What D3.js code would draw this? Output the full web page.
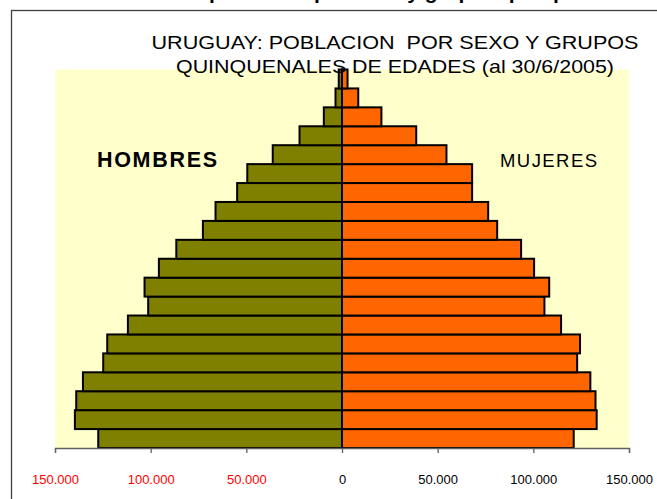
<!DOCTYPE html>
<html>
<head>
<meta charset="utf-8">
<script src="https://cdn.jsdelivr.net/npm/d3@7"></script>
<style>
  body { margin: 0; background: #fff; }
  text { font-family: "Liberation Sans", Arial, sans-serif; }
</style>
</head>
<body>
<script>
// age groups, bottom to top
var ageGroups = ["0-4", "5-9", "10-14", "15-19", "20-24", "25-29", "30-34", "35-39", "40-44", "45-49",
    "50-54", "55-59", "60-64", "65-69", "70-74", "75-79", "80-84", "85-89", "90-94", "95+"];

var hombres = [127400, 139600, 138900, 135400, 124800, 122700, 111900, 101300, 103200, 95700,
    86600, 72700, 66100, 54800, 49500, 36200, 22200, 9500, 3400, 1700];

var mujeres = [121100, 133100, 132500, 129800, 122900, 124400, 114500, 105800, 108300, 100400,
    93600, 81100, 76400, 68000, 68000, 54600, 38800, 20600, 8500, 2900];

var tickValues = [-150000, -100000, -50000, 0, 50000, 100000, 150000];

var titleLines = ["URUGUAY: POBLACION  POR SEXO Y GRUPOS", "QUINQUENALES DE EDADES (al 30/6/2005)"];

var width = 657, height = 499;
var plot = {left: 55, right: 629, top: 69.5, bottom: 448};

var svg = d3.select("body").append("svg")
    .attr("width", width)
    .attr("height", height);

// heading of the page, cut off above the chart frame
svg.append("text")
    .attr("x", 395)
    .attr("y", -1)
    .attr("text-anchor", "middle")
    .style("font-size", "21px")
    .style("font-weight", "bold")
    .text("Estructura de la población por sexo y grupos quinquenales de edades");

// chart frame
svg.append("rect")
    .attr("x", 11.5)
    .attr("y", 10.5)
    .attr("width", 800)
    .attr("height", 600)
    .attr("fill", "#fff")
    .attr("stroke", "#404040")
    .attr("stroke-width", 1.3);

// plot background
svg.append("rect")
    .attr("x", plot.left)
    .attr("y", plot.top)
    .attr("width", plot.right - plot.left)
    .attr("height", plot.bottom - plot.top)
    .attr("fill", "#ffffcc");

var x = d3.scaleLinear()
    .domain([-150000, 150000])
    .range([plot.left, plot.right]);

var y = d3.scaleBand()
    .domain(ageGroups)
    .range([plot.bottom, plot.top])
    .paddingInner(0);

var data = ageGroups.map(function (g, i) {
    return {group: g, h: hombres[i], m: mujeres[i]};
});

var bars = svg.append("g").attr("class", "bars");

bars.selectAll("rect.h")
    .data(data)
    .enter().append("rect")
    .attr("class", "h")
    .attr("x", function (d) { return x(-d.h); })
    .attr("y", function (d) { return y(d.group); })
    .attr("width", function (d) { return x(0) - x(-d.h); })
    .attr("height", y.bandwidth())
    .attr("fill", "#808000")
    .attr("stroke", "#000")
    .attr("stroke-width", 2);

bars.selectAll("rect.m")
    .data(data)
    .enter().append("rect")
    .attr("class", "m")
    .attr("x", x(0))
    .attr("y", function (d) { return y(d.group); })
    .attr("width", function (d) { return x(d.m) - x(0); })
    .attr("height", y.bandwidth())
    .attr("fill", "#ff6600")
    .attr("stroke", "#000")
    .attr("stroke-width", 2);

// x axis, thousands with a dot
var fmt = function (v) { return d3.format(",")(Math.abs(v)).replace(/,/g, "."); };

var xAxis = d3.axisBottom(x)
    .tickValues(tickValues)
    .tickSize(5)
    .tickFormat(fmt);

var gx = svg.append("g")
    .attr("class", "x axis")
    .attr("transform", "translate(0," + plot.bottom + ")")
    .call(xAxis);

gx.select(".domain").attr("stroke", "#606060").attr("stroke-width", 1.3);
gx.selectAll(".tick line").attr("stroke", "#606060").attr("stroke-width", 1.3);
gx.selectAll(".tick text")
    .attr("y", 27)
    .attr("dy", "0.71em")
    .style("font-size", "13px")
    .attr("fill", function (d) { return d < 0 ? "#ff0000" : "#000"; });

// title
svg.selectAll("text.title")
    .data(titleLines)
    .enter().append("text")
    .attr("class", "title")
    .attr("x", 395)
    .attr("y", function (d, i) { return 49 + i * 23.5; })
    .attr("text-anchor", "middle")
    .attr("textLength", function (d, i) { return i === 0 ? 487 : 438; })
    .attr("lengthAdjust", "spacingAndGlyphs")
    .style("white-space", "pre")
    .style("font-size", "18.5px")
    .text(function (d) { return d; });

// series labels
svg.append("text")
    .attr("x", 97)
    .attr("y", 167)
    .attr("textLength", 120)
    .style("font-size", "21.5px")
    .style("font-weight", "bold")
    .text("HOMBRES");

svg.append("text")
    .attr("x", 500)
    .attr("y", 166.5)
    .attr("textLength", 97)
    .style("font-size", "18.5px")
    .text("MUJERES");
</script>
</body>
</html>
